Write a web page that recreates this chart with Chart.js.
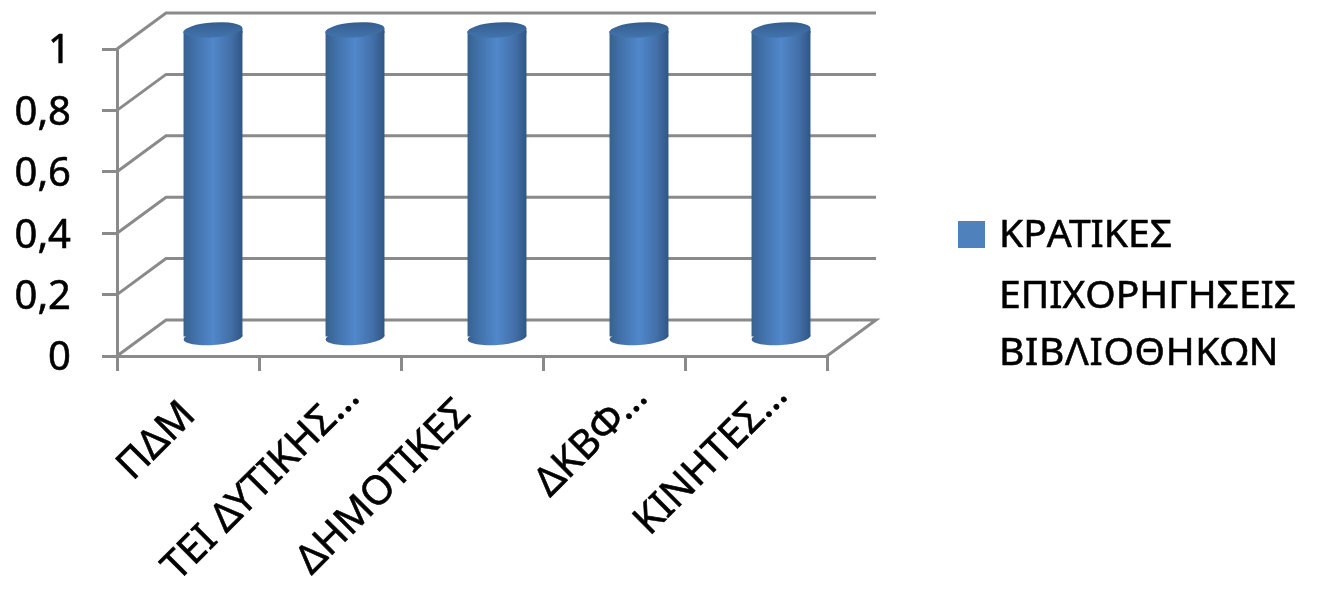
<!DOCTYPE html>
<html>
<head>
<meta charset="utf-8">
<script src="https://cdn.jsdelivr.net/npm/chart.js@4"></script>
<style>
html,body{margin:0;padding:0;background:#fff}
#w{width:1320px;height:593px;position:relative}
canvas{display:block;filter:blur(0.5px)}
</style>
</head>
<body>
<div id="w"><canvas id="c" width="1320" height="593"></canvas></div>
<script>
const categories = ['ΠΔΜ','ΤΕΙ ΔΥΤΙΚΗΣ…','ΔΗΜΟΤΙΚΕΣ','ΔΚΒΦ…','ΚΙΝΗΤΕΣ…'];
const seriesValues = [1,1,1,1,1];
const seriesName = 'ΚΡΑΤΙΚΕΣ ΕΠΙΧΟΡΗΓΗΣΕΙΣ ΒΙΒΛΙΟΘΗΚΩΝ';
const legendLines = ['ΚΡΑΤΙΚΕΣ','ΕΠΙΧΟΡΗΓΗΣΕΙΣ','ΒΙΒΛΙΟΘΗΚΩΝ'];

const FONT = '"Noto Sans"';
const GRID = '#8a8a8a';
const DX = 49, DY = 36;
const BAR_SHIFT_X = 25, BAR_SHIFT_Y = 18;
const TILT = -4 * Math.PI / 180;
const labelShift = [[1,21],[23,3],[-8,19],[27,3],[25,1]];
const yLabelDrop = 3;

function bodyGradient(ctx, cx, hw){
  if(!isFinite(cx)) return '#4f81bd';
  const g = ctx.createLinearGradient(cx-hw,0,cx+hw,0);
  g.addColorStop(0,'#36608f');
  g.addColorStop(0.18,'#4170a8');
  g.addColorStop(0.5,'#5088cb');
  g.addColorStop(0.8,'#436fa8');
  g.addColorStop(1,'#2f5582');
  return g;
}

const wallPlugin = {
  id:'walls',
  beforeDraw(chart){
    chart.scales.x.getLabelItems().forEach((it,i)=>{
      if(!it.__moved){
        it.options.translation = [it.options.translation[0]+labelShift[i][0], it.options.translation[1]+labelShift[i][1]];
        it.__moved = true;
      }
    });
    chart.scales.y.getLabelItems().forEach(it=>{
      if(!it.__moved){
        it.options.translation = [it.options.translation[0], it.options.translation[1]+yLabelDrop];
        it.__moved = true;
      }
    });
  },
  beforeDatasetsDraw(chart){
    const {ctx,chartArea:a,scales:{y}} = chart;
    ctx.save();
    ctx.strokeStyle = GRID; ctx.lineWidth = 3; ctx.lineJoin='miter';
    y.ticks.forEach(t=>{
      const py = y.getPixelForValue(t.value);
      ctx.beginPath();
      ctx.moveTo(a.left,py);
      ctx.lineTo(a.left+DX,py-DY);
      ctx.lineTo(a.right+DX,py-DY);
      if(t.value===0) ctx.lineTo(a.right,py);
      ctx.stroke();
    });
    ctx.restore();
  },
  beforeDatasetDraw(chart){
    const ctx = chart.ctx;
    ctx.save();
    ctx.translate(BAR_SHIFT_X,-BAR_SHIFT_Y);
    chart.getDatasetMeta(0).data.forEach(b=>{
      const hw = b.width/2;
      ctx.fillStyle = bodyGradient(ctx,b.x,hw);
      ctx.beginPath();
      ctx.ellipse(b.x,b.base+1,hw,7.5,TILT,0,Math.PI*2);
      ctx.fill();
      ctx.beginPath();
      ctx.moveTo(b.x-hw,b.y+1);
      ctx.lineTo(b.x+hw,b.y-3);
      ctx.lineTo(b.x+hw,b.y+2);
      ctx.lineTo(b.x-hw,b.y+2);
      ctx.closePath();
      ctx.fill();
    });
  },
  afterDatasetDraw(chart){
    const ctx = chart.ctx;
    chart.getDatasetMeta(0).data.forEach(b=>{
      const g = ctx.createLinearGradient(0,b.y-9,0,b.y+7);
      g.addColorStop(0,'#345d8e');
      g.addColorStop(1,'#4374ae');
      ctx.fillStyle = g;
      ctx.beginPath();
      ctx.ellipse(b.x,b.y-1,b.width/2,7.5,TILT,0,Math.PI*2);
      ctx.fill();
    });
    ctx.restore();
  },
  afterDraw(chart){
    const ctx = chart.ctx;
    ctx.save();
    ctx.fillStyle = '#4f81bd';
    ctx.fillRect(958,221,27,27);
    ctx.fillStyle = '#000';
    ctx.strokeStyle = '#000';
    ctx.lineWidth = 0.6;
    ctx.font = '39px '+FONT;
    ctx.textBaseline='alphabetic'; ctx.textAlign='left';
    const baselines = [247,308,365];
    const spacing = ['0px','0px','0.7px'];
    legendLines.forEach((l,i)=>{
      ctx.letterSpacing = spacing[i];
      ctx.fillText(l,999,baselines[i]);
      ctx.strokeText(l,999,baselines[i]);
    });
    ctx.restore();
  }
};

new Chart(document.getElementById('c'),{
  type:'bar',
  data:{labels:categories,datasets:[{
    label:seriesName,
    data:seriesValues,
    clip:false,
    categoryPercentage:1,
    barPercentage:0.415,
    borderWidth:0,
    backgroundColor(c){
      const xs = c.chart.scales.x;
      if(c.dataIndex===undefined || !xs) return '#4f81bd';
      return bodyGradient(c.chart.ctx,xs.getPixelForValue(c.dataIndex),30);
    }
  }]},
  options:{
    responsive:false,
    animation:false,
    events:[],
    layout:{padding:{top:49,right:493,bottom:0,left:0}},
    plugins:{legend:{display:false},tooltip:{enabled:false},title:{display:false}},
    scales:{
      x:{
        afterFit(s){s.height=237;s.paddingLeft=0;s.paddingRight=0;},
        border:{color:GRID,width:3},
        grid:{color:GRID,lineWidth:3,drawOnChartArea:false,tickLength:15},
        ticks:{color:'#000',font:{family:FONT,size:40},minRotation:45,maxRotation:45,autoSkip:false,padding:0,textStrokeColor:'#000',textStrokeWidth:0.6}
      },
      y:{
        min:0,max:1,
        afterFit(s){s.width=117;s.paddingTop=0;s.paddingBottom=0;},
        border:{color:GRID,width:3},
        grid:{color:GRID,lineWidth:3,drawOnChartArea:false,tickLength:15},
        ticks:{color:'#000',font:{family:FONT,size:40},stepSize:0.2,padding:31,textStrokeColor:'#000',textStrokeWidth:0.6,
          callback(v){return String(Math.round(v*10)/10).replace('.',',');}}
      }
    }
  },
  plugins:[wallPlugin]
});
</script>
</body>
</html>
